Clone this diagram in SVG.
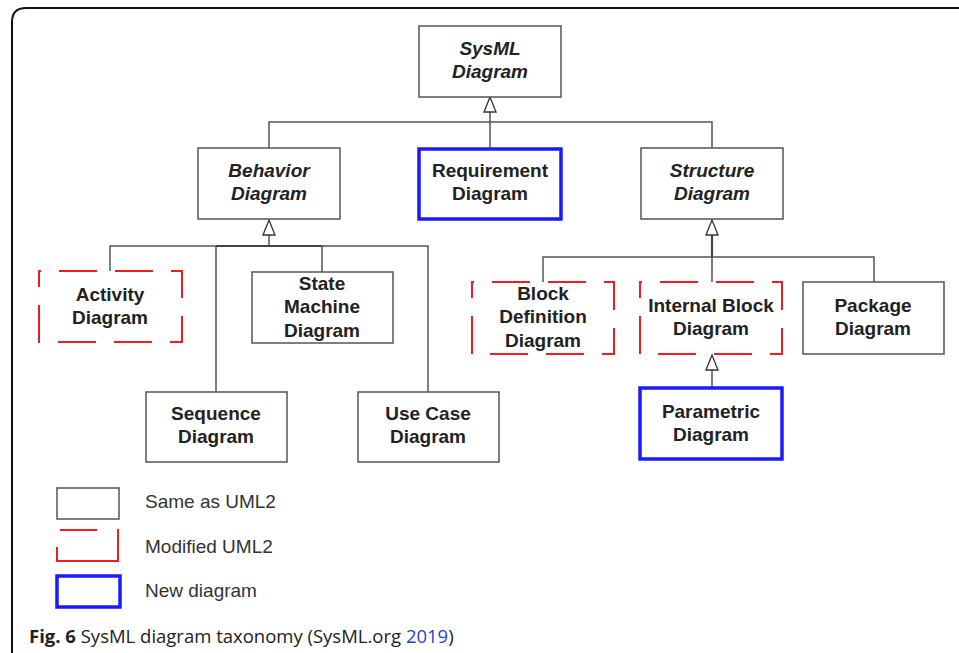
<svg xmlns="http://www.w3.org/2000/svg" width="959" height="653" viewBox="0 0 959 653">
<defs>
<style>
.box{fill:#fff;stroke:#555;stroke-width:1.5}
.mod{fill:#fff;stroke:#f01c24;stroke-width:2;stroke-dasharray:38 18}
.new{fill:#fff;stroke:#1a1aff;stroke-width:3.5}
.t{font-family:"Liberation Sans",Arial,sans-serif;font-weight:bold;font-size:19px;fill:#222;text-anchor:middle}
.i{font-style:italic}
.c{fill:none;stroke:#555;stroke-width:1.5}
.tri{fill:#fff;stroke:#333;stroke-width:1.3}
.lg{font-family:"Liberation Sans",Arial,sans-serif;font-size:19px;fill:#333}
.cap{font-family:"Open Sans","Noto Sans",sans-serif;font-size:18.5px;fill:#222}
</style>
</defs>
<rect width="959" height="653" fill="#fff"/>
<path d="M12,653 L12,22 Q12,8 26,8 L959,8" fill="none" stroke="#111" stroke-width="2"/>

<g id="connectors">
<path class="c" d="M490,112 V148 M269,148 V122 H712 V148"/>
<path class="tri" d="M484,112 L490,97 L496,112 Z"/>
<path class="c" d="M269,235 V246 M110,271 V246 H428 V392 M216,246 V392 M322,246 V272"/>
<path d="M216,246 H322" fill="none" stroke="#444" stroke-width="2"/>
<path class="tri" d="M263,235 L269,220 L275,235 Z"/>
<path class="c" d="M712,235 V282 M543,282 V257 H874 V282"/>
<path d="M712,235 V257" fill="none" stroke="#444" stroke-width="2.2"/>
<path class="tri" d="M706,235 L712,220 L718,235 Z"/>
<path class="c" d="M712,370 V388"/>
<path class="tri" d="M706,370 L712,355 L718,370 Z"/>
</g>

<g id="sysml"><rect class="box" x="419" y="26" width="142" height="71"/>
<text class="t i" x="490" y="55">SysML</text><text class="t i" x="490" y="78">Diagram</text></g>

<g id="behavior"><rect class="box" x="198" y="148" width="142" height="71"/>
<text class="t i" x="269" y="177">Behavior</text><text class="t i" x="269" y="200">Diagram</text></g>

<g id="requirement"><rect class="new" x="419" y="149" width="142" height="70"/>
<text class="t" x="490" y="177">Requirement</text><text class="t" x="490" y="200">Diagram</text></g>

<g id="structure"><rect class="box" x="641" y="148" width="142" height="71"/>
<text class="t i" x="712" y="177">Structure</text><text class="t i" x="712" y="200">Diagram</text></g>

<g id="activity"><rect class="mod" x="39" y="271" width="143" height="71" stroke-dashoffset="-20"/>
<text class="t" x="110" y="301">Activity</text><text class="t" x="110" y="324">Diagram</text></g>

<g id="statemachine"><rect class="box" x="252" y="272" width="141" height="71"/>
<text class="t" x="322" y="290">State</text><text class="t" x="322" y="313">Machine</text><text class="t" x="322" y="337">Diagram</text></g>

<g id="sequence"><rect class="box" x="146" y="392" width="141" height="70"/>
<text class="t" x="216" y="420">Sequence</text><text class="t" x="216" y="443">Diagram</text></g>

<g id="usecase"><rect class="box" x="358" y="392" width="141" height="70"/>
<text class="t" x="428" y="420">Use Case</text><text class="t" x="428" y="443">Diagram</text></g>

<g id="bdd"><rect class="mod" x="472" y="282" width="142" height="72" stroke-dashoffset="-20"/>
<text class="t" x="543" y="300">Block</text><text class="t" x="543" y="323">Definition</text><text class="t" x="543" y="347">Diagram</text></g>

<g id="ibd"><rect class="mod" x="640" y="282" width="142" height="72" stroke-dashoffset="-20"/>
<text class="t" x="711" y="312">Internal Block</text><text class="t" x="711" y="335">Diagram</text></g>

<g id="package"><rect class="box" x="803" y="282" width="141" height="72"/>
<text class="t" x="873" y="312">Package</text><text class="t" x="873" y="335">Diagram</text></g>

<g id="parametric"><rect class="new" x="640" y="388" width="142" height="71"/>
<text class="t" x="711" y="418">Parametric</text><text class="t" x="711" y="441">Diagram</text></g>

<g id="legend">
<rect class="box" x="57" y="488" width="62" height="31"/>
<text class="lg" x="145" y="508">Same as UML2</text>
<path d="M60,530 H97 M118,529 V561 H57 V547" fill="none" stroke="#f01c24" stroke-width="2"/>
<text class="lg" x="145" y="553">Modified UML2</text>
<rect class="new" x="57" y="576" width="63" height="31"/>
<text class="lg" x="145" y="597">New diagram</text>
</g>

<text class="cap" x="29" y="643"><tspan font-weight="bold">Fig. 6</tspan> SysML diagram taxonomy (SysML.org <tspan fill="#2a3fd4">2019</tspan>)</text>
</svg>
